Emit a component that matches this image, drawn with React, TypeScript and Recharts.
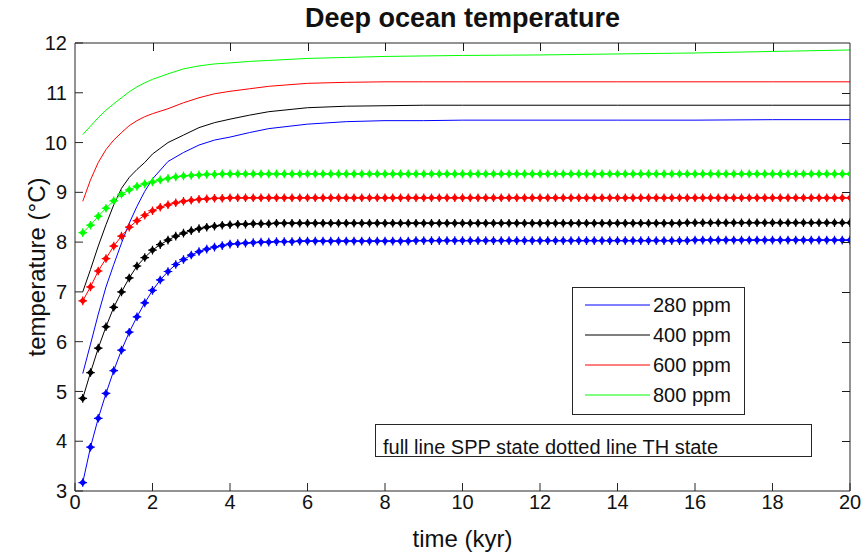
import React from "react";
import { LineChart, Line, XAxis, YAxis, Legend } from "recharts";

// time grid of the TH runs (kyr)
const timeTH = [
  0.2, 0.4, 0.6, 0.8, 1, 1.2, 1.4, 1.6, 1.8, 2,
  2.2, 2.4, 2.6, 2.8, 3, 3.2, 3.4, 3.6, 3.8, 4,
  4.2, 4.4, 4.6, 4.8, 5, 5.2, 5.4, 5.6, 5.8, 6,
  6.2, 6.4, 6.6, 6.8, 7, 7.2, 7.4, 7.6, 7.8, 8,
  8.2, 8.4, 8.6, 8.8, 9, 9.2, 9.4, 9.6, 9.8, 10,
  10.2, 10.4, 10.6, 10.8, 11, 11.2, 11.4, 11.6, 11.8, 12,
  12.2, 12.4, 12.6, 12.8, 13, 13.2, 13.4, 13.6, 13.8, 14,
  14.2, 14.4, 14.6, 14.8, 15, 15.2, 15.4, 15.6, 15.8, 16,
  16.2, 16.4, 16.6, 16.8, 17, 17.2, 17.4, 17.6, 17.8, 18,
  18.2, 18.4, 18.6, 18.8, 19, 19.2, 19.4, 19.6, 19.8, 20,
];

// TH state (dotted) deep ocean temperature, °C
const th280 = [
  3.17, 3.88, 4.46, 4.96, 5.42, 5.83, 6.19, 6.5, 6.78, 7.03,
  7.24, 7.41, 7.55, 7.65, 7.74, 7.81, 7.86, 7.9, 7.93, 7.96,
  7.97, 7.98, 7.99, 8.0, 8.0, 8.01, 8.01, 8.01, 8.02, 8.02,
  8.02, 8.02, 8.02, 8.02, 8.02, 8.02, 8.02, 8.02, 8.02, 8.02,
  8.02, 8.02, 8.02, 8.03, 8.03, 8.03, 8.03, 8.03, 8.03, 8.03,
  8.03, 8.03, 8.03, 8.03, 8.03, 8.03, 8.03, 8.03, 8.03, 8.03,
  8.03, 8.03, 8.03, 8.03, 8.03, 8.03, 8.03, 8.03, 8.03, 8.03,
  8.03, 8.03, 8.03, 8.03, 8.03, 8.03, 8.03, 8.03, 8.03, 8.04,
  8.04, 8.04, 8.04, 8.04, 8.04, 8.04, 8.04, 8.04, 8.04, 8.04,
  8.04, 8.04, 8.04, 8.04, 8.04, 8.04, 8.04, 8.04, 8.04, 8.04,
];
const th400 = [
  4.86, 5.38, 5.87, 6.3, 6.69, 7.0, 7.28, 7.52, 7.69, 7.84,
  7.95, 8.04, 8.12, 8.18, 8.23, 8.27, 8.3, 8.32, 8.34, 8.35,
  8.36, 8.36, 8.37, 8.37, 8.37, 8.38, 8.38, 8.38, 8.38, 8.38,
  8.38, 8.38, 8.38, 8.38, 8.38, 8.38, 8.38, 8.38, 8.38, 8.38,
  8.38, 8.38, 8.38, 8.38, 8.38, 8.38, 8.38, 8.38, 8.38, 8.38,
  8.38, 8.38, 8.38, 8.38, 8.38, 8.38, 8.38, 8.38, 8.38, 8.38,
  8.38, 8.38, 8.38, 8.38, 8.38, 8.38, 8.38, 8.38, 8.38, 8.38,
  8.38, 8.38, 8.38, 8.38, 8.38, 8.38, 8.38, 8.38, 8.39, 8.39,
  8.39, 8.39, 8.39, 8.39, 8.39, 8.39, 8.39, 8.39, 8.39, 8.39,
  8.39, 8.39, 8.39, 8.39, 8.39, 8.39, 8.39, 8.39, 8.39, 8.39,
];
const th600 = [
  6.82, 7.1, 7.42, 7.67, 7.92, 8.12, 8.3, 8.43, 8.54, 8.63,
  8.7, 8.75, 8.79, 8.82, 8.84, 8.86, 8.87, 8.88, 8.88, 8.89,
  8.89, 8.89, 8.89, 8.89, 8.89, 8.89, 8.89, 8.89, 8.89, 8.89,
  8.89, 8.89, 8.89, 8.89, 8.89, 8.89, 8.89, 8.89, 8.89, 8.89,
  8.89, 8.89, 8.89, 8.89, 8.89, 8.89, 8.89, 8.89, 8.89, 8.89,
  8.89, 8.89, 8.89, 8.89, 8.89, 8.89, 8.89, 8.89, 8.89, 8.89,
  8.89, 8.89, 8.89, 8.89, 8.89, 8.89, 8.89, 8.89, 8.89, 8.89,
  8.89, 8.89, 8.89, 8.89, 8.89, 8.89, 8.89, 8.89, 8.89, 8.89,
  8.89, 8.89, 8.89, 8.89, 8.89, 8.89, 8.89, 8.89, 8.89, 8.89,
  8.89, 8.89, 8.89, 8.89, 8.89, 8.89, 8.89, 8.89, 8.89, 8.89,
];
const th800 = [
  8.19, 8.34, 8.52, 8.68, 8.83, 8.96, 9.05, 9.12, 9.17, 9.21,
  9.25, 9.28, 9.31, 9.33, 9.34, 9.35, 9.36, 9.36, 9.37, 9.37,
  9.37, 9.37, 9.37, 9.37, 9.37, 9.37, 9.37, 9.37, 9.37, 9.37,
  9.37, 9.37, 9.37, 9.37, 9.37, 9.37, 9.37, 9.37, 9.37, 9.37,
  9.37, 9.37, 9.37, 9.37, 9.37, 9.37, 9.37, 9.37, 9.37, 9.37,
  9.37, 9.37, 9.37, 9.37, 9.37, 9.37, 9.37, 9.37, 9.37, 9.37,
  9.37, 9.37, 9.37, 9.37, 9.37, 9.37, 9.37, 9.37, 9.37, 9.37,
  9.37, 9.37, 9.37, 9.37, 9.37, 9.37, 9.37, 9.37, 9.37, 9.37,
  9.37, 9.37, 9.37, 9.37, 9.37, 9.37, 9.37, 9.37, 9.37, 9.37,
  9.37, 9.37, 9.37, 9.37, 9.37, 9.37, 9.37, 9.37, 9.37, 9.37,
];

// SPP state (full line) runs, coarser output grid
const timeSPP = [0.2, 0.4, 0.6, 0.8, 1, 1.2, 1.4, 1.6, 1.8, 2, 2.4, 2.8, 3.2, 3.6, 4, 4.5, 5, 6, 7, 8, 9, 10, 12, 14, 16, 18, 20];
const spp280 = [5.36, 5.95, 6.55, 7.1, 7.55, 7.98, 8.38, 8.72, 9.02, 9.27, 9.62, 9.8, 9.95, 10.05, 10.11, 10.2, 10.28, 10.37, 10.42, 10.44, 10.44, 10.45, 10.45, 10.45, 10.45, 10.46, 10.46];
const spp400 = [7.0, 7.45, 7.92, 8.35, 8.75, 9.08, 9.3, 9.46, 9.6, 9.77, 10.0, 10.15, 10.3, 10.4, 10.47, 10.55, 10.62, 10.7, 10.73, 10.74, 10.75, 10.75, 10.75, 10.75, 10.75, 10.75, 10.75];
const spp600 = [8.82, 9.25, 9.6, 9.86, 10.05, 10.2, 10.34, 10.44, 10.52, 10.58, 10.68, 10.8, 10.9, 10.98, 11.03, 11.08, 11.13, 11.19, 11.21, 11.22, 11.22, 11.22, 11.22, 11.22, 11.22, 11.22, 11.22];
const spp800 = [10.16, 10.33, 10.5, 10.65, 10.78, 10.9, 11.02, 11.12, 11.2, 11.27, 11.38, 11.48, 11.54, 11.58, 11.6, 11.63, 11.65, 11.69, 11.71, 11.73, 11.74, 11.75, 11.76, 11.78, 11.8, 11.83, 11.86];

const co2Labels = ["280 ppm", "400 ppm", "600 ppm", "800 ppm"];
const colors = ["#0000ff", "#000000", "#ff0000", "#00ff00"];
const xTicks = [0, 2, 4, 6, 8, 10, 12, 14, 16, 18, 20];
const yTicks = [3, 4, 5, 6, 7, 8, 9, 10, 11, 12];

const X_MIN = 0;
const X_MAX = 20;
const Y_MIN = 3;
const Y_MAX = 12;

// chart and plot-box geometry
const W = 863;
const H = 558;
const BOX = { left: 75, top: 43, right: 850, bottom: 491 };
const Y_AXIS_W = 60;
const X_AXIS_H = 60;
const TICK = 8;

const FONT = "'Liberation Sans', Arial, Helvetica, sans-serif";
const AXIS = "#262626";

const toRows = (t: number[], v: number[]) => t.map((x, i) => ({ t: x, v: v[i] }));
const sppSeries = [spp280, spp400, spp600, spp800].map((v) => toRows(timeSPP, v));
const thSeries = [th280, th400, th600, th800].map((v) => toRows(timeTH, v));

// MATLAB-like '*' marker
const StarDot = (props: any) => {
  const { cx, cy, stroke, index } = props;
  if (cx == null || cy == null) return <g key={index} />;
  return (
    <g key={index}>
      <path d={`M${cx - 3.6},${cy}L${cx},${cy - 3.6}L${cx + 3.6},${cy}L${cx},${cy + 3.6}Z`} fill={stroke} />
      <path d={`M${cx - 4.3},${cy}H${cx + 4.3}M${cx},${cy - 4.3}V${cy + 4.3}`} stroke={stroke} strokeWidth={1.2} />
    </g>
  );
};

const LegendBox = (props: any) => {
  const items = (props.payload || []).filter((p: any) => p.type !== "none");
  return (
    <svg width={173} height={128} style={{ display: "block" }}>
      <rect x={0.5} y={0.5} width={172} height={127} fill="#fff" stroke={AXIS} />
      {items.map((p: any, i: number) => {
        const y = 18 + i * 30;
        return (
          <g key={p.value}>
            <line x1={13} x2={78} y1={y} y2={y} stroke={p.color} strokeWidth={1} />
            <text x={81} y={y + 7} fontFamily={FONT} fontSize={20} fill="#111">
              {p.value}
            </text>
          </g>
        );
      })}
    </svg>
  );
};

const YTitle = (props: any) => {
  const vb = props.viewBox || {};
  const x = vb.x + 22;
  const y = vb.y + vb.height / 2;
  return (
    <text x={x} y={y} transform={`rotate(-90, ${x}, ${y})`} textAnchor="middle" fontFamily={FONT} fontSize={24} fill="#111" dy={8}>
      temperature (°C)
    </text>
  );
};

// inward tick marks on the top and right edges of the box
const FrameTicks = () => {
  const sx = (x: number) => Math.round(BOX.left + ((x - X_MIN) / (X_MAX - X_MIN)) * (BOX.right - BOX.left)) + 0.5;
  const sy = (y: number) => Math.round(BOX.bottom - ((y - Y_MIN) / (Y_MAX - Y_MIN)) * (BOX.bottom - BOX.top)) + 0.5;
  return (
    <svg
      width={W}
      height={H}
      style={{ position: "absolute", left: 0, top: 0, pointerEvents: "none", zIndex: 5 }}
    >
      <g stroke="#1a1a1a" strokeWidth={1.5} shapeRendering="crispEdges">
        {xTicks.slice(1, -1).map((x) => (
          <line key={`t${x}`} x1={sx(x)} x2={sx(x)} y1={BOX.top} y2={BOX.top + TICK} />
        ))}
        {yTicks.slice(1, -1).map((y) => (
          <line key={`r${y}`} x1={BOX.right} x2={BOX.right - TICK} y1={sy(y)} y2={sy(y)} />
        ))}
      </g>
    </svg>
  );
};

export default function App() {
  return (
    <div style={{ position: "absolute", left: 0, top: 0, width: W, height: H, background: "#fff", fontFamily: FONT }}>
      <div
        style={{
          position: "absolute",
          left: BOX.left,
          width: BOX.right - BOX.left,
          top: 3,
          textAlign: "center",
          fontSize: 27,
          lineHeight: "30px",
          fontWeight: 700,
          color: "#111",
        }}
      >
        Deep ocean temperature
      </div>
      <LineChart
        width={W}
        height={H}
        margin={{
          top: BOX.top - 1,
          right: W - BOX.right - 1,
          bottom: H - BOX.bottom - X_AXIS_H,
          left: BOX.left - Y_AXIS_W,
        }}
      >
        <XAxis
          dataKey="t"
          type="number"
          domain={[X_MIN, X_MAX]}
          ticks={xTicks}
          allowDataOverflow
          height={X_AXIS_H}
          tickSize={-TICK}
          tickMargin={12}
          axisLine={{ stroke: AXIS }}
          tickLine={{ stroke: AXIS }}
          tick={{ fill: "#111", fontSize: 20, fontFamily: FONT }}
          label={{ value: "time (kyr)", position: "insideBottom", offset: 4, fontSize: 24, fontFamily: FONT, fill: "#111" }}
        />
        {/* top and right edges of the box */}
        <XAxis
          xAxisId="top"
          dataKey="t"
          orientation="top"
          type="number"
          domain={[X_MIN, X_MAX]}
          allowDataOverflow
          height={1}
          tick={false}
          tickLine={false}
          axisLine={{ stroke: AXIS }}
        />
        <YAxis
          type="number"
          domain={[Y_MIN, Y_MAX]}
          ticks={yTicks}
          allowDataOverflow
          width={Y_AXIS_W}
          tickSize={-TICK}
          tickMargin={16}
          axisLine={{ stroke: AXIS }}
          tickLine={{ stroke: AXIS }}
          tick={{ fill: "#111", fontSize: 20, fontFamily: FONT }}
          label={YTitle}
        />
        <YAxis
          yAxisId="right"
          orientation="right"
          type="number"
          domain={[Y_MIN, Y_MAX]}
          allowDataOverflow
          width={1}
          tick={false}
          tickLine={false}
          axisLine={{ stroke: AXIS }}
        />
        {sppSeries.map((rows, i) => (
          <Line
            key={`spp-${i}`}
            data={rows}
            dataKey="v"
            name={co2Labels[i]}
            type="linear"
            stroke={colors[i]}
            strokeWidth={1}
            dot={false}
            activeDot={false}
            isAnimationActive={false}
          />
        ))}
        {/* TH runs sit on the top/right axis pair, which share the same domains */}
        {thSeries.map((rows, i) => (
          <Line
            key={`th-${i}`}
            xAxisId="top"
            yAxisId="right"
            data={rows}
            dataKey="v"
            name={`TH ${co2Labels[i]}`}
            legendType="none"
            type="linear"
            stroke={colors[i]}
            strokeWidth={1}
            dot={<StarDot />}
            activeDot={false}
            isAnimationActive={false}
          />
        ))}
        <Legend
          layout="horizontal"
          verticalAlign="middle"
          align="center"
          content={<LegendBox />}
          wrapperStyle={{ left: 572, top: 287, width: 173, height: 128 }}
        />
      </LineChart>
      <FrameTicks />
      <svg width={437} height={34} style={{ position: "absolute", left: 375, top: 424 }}>
        <rect x={0.5} y={0.5} width={436} height={32} fill="#fff" stroke={AXIS} />
        <text x={8} y={30} fontFamily={FONT} fontSize={20} fill="#111">
          full line SPP state dotted line TH state
        </text>
      </svg>
    </div>
  );
}
